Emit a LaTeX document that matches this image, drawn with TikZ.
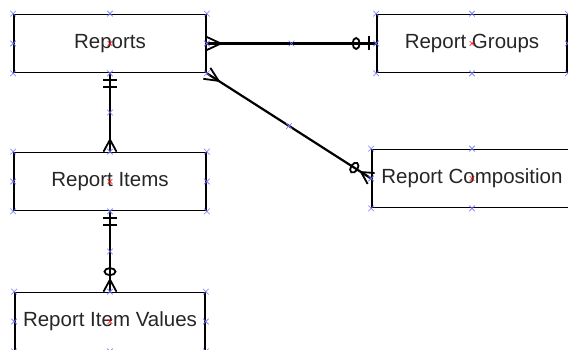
\documentclass[tikz,border=0pt]{standalone}
\usepackage{fontspec}
\setsansfont{Liberation Sans}
\usetikzlibrary{shapes.misc,decorations.markings}

\begin{document}
\begin{tikzpicture}[line width=1.7pt, node distance=138pt,
        entity/.style={rectangle, draw, minimum width=192pt, minimum height=58pt, font=\sffamily\fontsize{20.5}{24}\selectfont, text=black!85},
        link/.style={draw, line width=2.2pt},
        handle/.style={cross out, draw=blue!55, line width=0.6pt, minimum size=5pt, inner sep=0pt},
        centre/.style={cross out, draw=red, line width=0.6pt, minimum size=4pt, inner sep=0pt},
        many start/.style={postaction={decorate, decoration={markings, mark=at position 14pt with {\draw[line width=1.8pt] (0,0) -- (-14pt,6.5pt) (0,0) -- (-14pt,-6.5pt);}}}},
        many end/.style={postaction={decorate, decoration={markings, mark=at position -12pt with {\draw[line width=1.8pt] (0,0) -- (12pt,6.5pt) (0,0) -- (12pt,-6.5pt);}}}},
        two bars/.style={postaction={decorate, decoration={markings, mark=at position 7pt with {\draw[line width=1.8pt] (0,-7pt) -- (0,7pt);}, mark=at position 14pt with {\draw[line width=1.8pt] (0,-7pt) -- (0,7pt);}}}},
        zero end/.style={postaction={decorate, decoration={markings, mark=at position -20pt with {\draw[line width=1.8pt] (0,0) ellipse (3.5pt and 5.5pt);}}}},
        bar end/.style={postaction={decorate, decoration={markings, mark=at position -7pt with {\draw[line width=1.8pt] (0,-7pt) -- (0,7pt);}}}}]

            \useasboundingbox (0,0) rectangle (568pt,-350pt);

            % Entities

            \node [entity] (reports) at (110pt,-43.5pt) {Reports};
            \node [entity, minimum width=190pt] (groups) [right of = reports, node distance=362pt] {Report Groups};
            \node [entity] (items) [below of = reports] {Report Items};
            \node [entity, minimum width=200pt] (compo) [below of = groups, node distance=135pt] {Report Composition};
            \node [entity, minimum width=190pt] (values) [below of = items, node distance=140pt] {Report Item Values};

            % Relationships

            \path [link, many start, zero end, bar end] (reports.east) -- (groups.west);
            \path [link, many start, zero end, many end] (reports.south east) -- (compo.west);
            \path [link, two bars, many end] (reports.south) -- (items.north);
            \path [link, two bars, zero end, many end] (items.south) -- (values.north);

            % Handles

            \foreach \n in {reports, groups, items, compo, values} {
                \foreach \a in {north west, north, north east, east, south east, south, south west, west}
                  \node [handle] at (\n.\a) {};
                \node [centre] at (\n.center) {};
            }
            \path (reports.east) -- node[handle] {} (groups.west)
                  (reports.south east) -- node[handle] {} (compo.west)
                  (reports.south) -- node[handle] {} (items.north)
                  (items.south) -- node[handle] {} (values.north);
        \end{tikzpicture}
\end{document}
